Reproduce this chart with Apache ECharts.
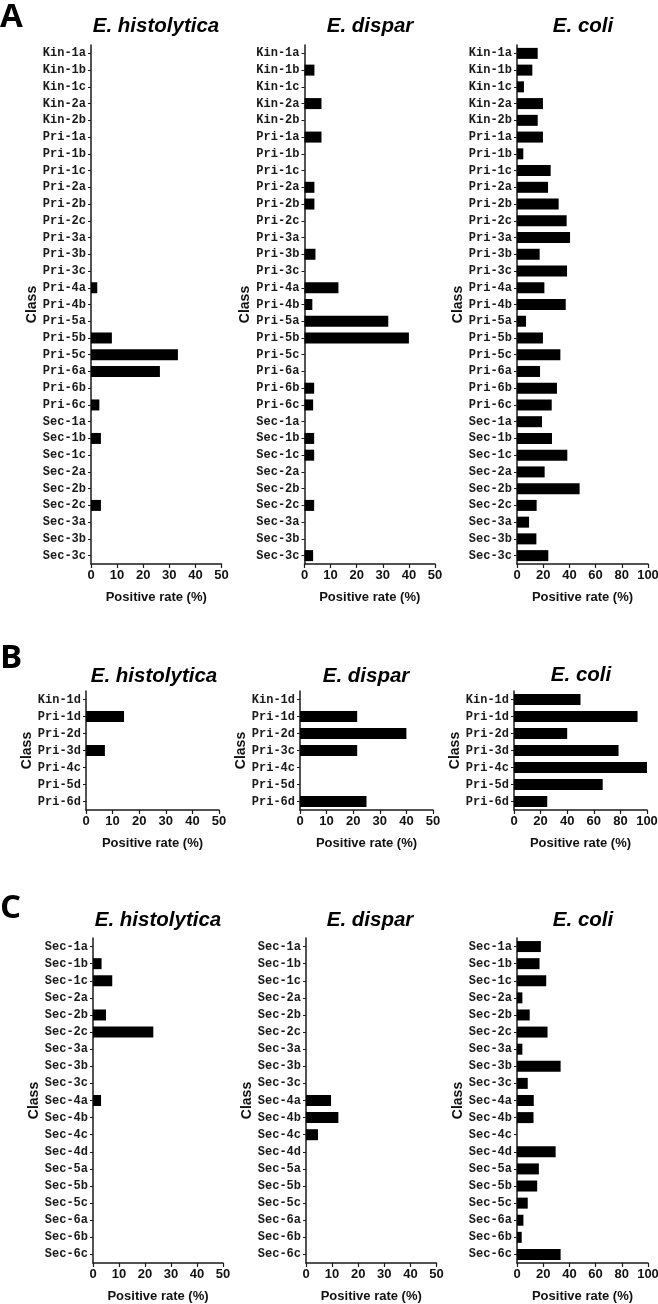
<!DOCTYPE html>
<html>
<head>
<meta charset="utf-8">
<script src="https://cdn.jsdelivr.net/npm/echarts@6/dist/echarts.min.js"></script>
<style>
html,body{margin:0;padding:0;background:#fff;}
#chart{width:658px;height:1304px;}
</style>
</head>
<body>
<div id="chart"></div>
<script>
// ---------- DATA ----------
const catsA = ['Kin-1a','Kin-1b','Kin-1c','Kin-2a','Kin-2b','Pri-1a','Pri-1b','Pri-1c','Pri-2a','Pri-2b','Pri-2c','Pri-3a','Pri-3b','Pri-3c','Pri-4a','Pri-4b','Pri-5a','Pri-5b','Pri-5c','Pri-6a','Pri-6b','Pri-6c','Sec-1a','Sec-1b','Sec-1c','Sec-2a','Sec-2b','Sec-2c','Sec-3a','Sec-3b','Sec-3c'];
const histA   = [0,0,0,0,0,0,0,0,0,0,0,0,0,0,2.4,0,0,8.0,33.3,26.4,0,3.2,0,3.8,0,0,0,3.8,0,0,0];
const disparA = [0,3.8,0,6.5,0,6.5,0,0,3.8,3.8,0,0,4.2,0,13.0,3.0,32.1,40.0,0,0,3.7,3.3,0,3.7,3.7,0,0,3.7,0,0,3.3];
const coliA   = [15.8,11.7,5.3,19.8,15.8,19.8,4.8,25.7,23.7,31.8,37.9,40.5,17.3,38.2,20.9,37.2,6.9,19.8,33.1,17.6,30.5,26.5,19.1,26.7,38.4,21.1,47.8,15.0,9.2,14.8,23.9];

const catsB       = ['Kin-1d','Pri-1d','Pri-2d','Pri-3d','Pri-4c','Pri-5d','Pri-6d'];
const catsBdispar = ['Kin-1d','Pri-1d','Pri-2d','Pri-3c','Pri-4c','Pri-5d','Pri-6d'];
const histB   = [0,14.3,0,7.1,0,0,0];
const disparB = [0,21.5,40.0,21.5,0,0,25.0];
const coliB   = [50.0,92.9,40.0,78.6,100,66.7,25.0];

const catsC = ['Sec-1a','Sec-1b','Sec-1c','Sec-2a','Sec-2b','Sec-2c','Sec-3a','Sec-3b','Sec-3c','Sec-4a','Sec-4b','Sec-4c','Sec-4d','Sec-5a','Sec-5b','Sec-5c','Sec-6a','Sec-6b','Sec-6c'];
const histC   = [0,3.3,7.4,0,5.0,23.2,0,0,0,3.1,0,0,0,0,0,0,0,0,0];
const disparC = [0,0,0,0,0,0,0,0,0,9.6,12.4,4.6,0,0,0,0,0,0,0];
const coliC   = [18.2,17.2,22.3,4.1,9.7,23.3,4.1,33.3,8.2,12.8,12.6,0,29.5,16.7,15.4,8.2,4.9,3.6,33.3];

const speciesNames = ['E. histolytica','E. dispar','E. coli'];
const panelLetters = ['A','B','C'];
const xMaxEnt = 50, xStepEnt = 10;
const xMaxColi = 100, xStepColi = 20;
const xAxisName = 'Positive rate (%)';
const yAxisName = 'Class';

// ---------- LAYOUT ----------
const panels = [
  {cats: catsA, vals: histA,   max: xMaxEnt,  step: xStepEnt,  left: 91,    width: 130.5, top: 45,  height: 519},
  {cats: catsA, vals: disparA, max: xMaxEnt,  step: xStepEnt,  left: 304.5, width: 130.5, top: 45,  height: 519},
  {cats: catsA, vals: coliA,   max: xMaxColi, step: xStepColi, left: 517,   width: 131,   top: 45,  height: 519},
  {cats: catsB, vals: histB,   max: xMaxEnt,  step: xStepEnt,  left: 86,    width: 133,   top: 691, height: 119},
  {cats: catsBdispar, vals: disparB, max: xMaxEnt, step: xStepEnt, left: 300, width: 133, top: 691, height: 119},
  {cats: catsB, vals: coliB,   max: xMaxColi, step: xStepColi, left: 514,   width: 133,   top: 691, height: 119},
  {cats: catsC, vals: histC,   max: xMaxEnt,  step: xStepEnt,  left: 93,    width: 130,   top: 938, height: 325},
  {cats: catsC, vals: disparC, max: xMaxEnt,  step: xStepEnt,  left: 306,   width: 130.5, top: 938, height: 325},
  {cats: catsC, vals: coliC,   max: xMaxColi, step: xStepColi, left: 517,   width: 131,   top: 938, height: 325}
];
const titleCenters = [[156,16],[370,16],[583,16],[154,666],[366,666],[581,665],[158,910],[370,910],[583,910]];
const letterTops = [1, 642, 892];

const axisColor = '#1a1a1a';
const grids = [], xAxes = [], yAxes = [], series = [], titles = [];

panels.forEach((p, i) => {
  grids.push({left: p.left, top: p.top, width: p.width, height: p.height, containLabel: false, outerBoundsMode: 'none'});
  xAxes.push({
    type: 'value', gridIndex: i, min: 0, max: p.max, interval: p.step,
    name: xAxisName, nameLocation: 'middle', nameGap: 27,
    nameTextStyle: {fontFamily: 'Liberation Sans', fontWeight: 'bold', fontSize: 13, color: '#111'},
    axisLine: {show: true, lineStyle: {color: axisColor, width: 1.5}},
    axisTick: {show: true, length: 4, lineStyle: {color: axisColor, width: 1.2}},
    axisLabel: {fontFamily: 'Liberation Sans', fontWeight: 'bold', fontSize: 13, color: '#111', margin: 5},
    splitLine: {show: false}
  });
  yAxes.push({
    type: 'category', gridIndex: i, data: p.cats, inverse: true,
    name: yAxisName, nameLocation: 'middle', nameGap: 52, nameRotate: 90,
    nameTextStyle: {fontFamily: 'Liberation Sans', fontWeight: 'bold', fontSize: 14, color: '#111'},
    axisLine: {show: true, onZero: false, lineStyle: {color: axisColor, width: 1.5}},
    axisTick: {show: true, alignWithLabel: true, length: 3, lineStyle: {color: axisColor, width: 1}},
    axisLabel: {fontFamily: 'Liberation Mono', fontWeight: 'bold', fontSize: 12, color: '#1a1a1a', margin: 5, interval: 0},
    splitLine: {show: false}
  });
  series.push({
    type: 'bar', xAxisIndex: i, yAxisIndex: i, data: p.vals,
    barWidth: 11, itemStyle: {color: '#000'}, silent: true, animation: false
  });
  titles.push({
    text: speciesNames[i % 3], left: titleCenters[i][0], top: titleCenters[i][1], textAlign: 'center', padding: 0,
    textStyle: {fontFamily: 'Liberation Sans', fontStyle: 'italic', fontWeight: 'bold', fontSize: 20.5, color: '#000'}
  });
});
panelLetters.forEach((L, k) => {
  titles.push({
    text: L, left: 0, top: letterTops[k], padding: 0,
    textStyle: {fontFamily: 'Open Sans', fontWeight: 'bold', fontSize: 33, color: '#000'}
  });
});

const chart = echarts.init(document.getElementById('chart'), null, {renderer: 'canvas'});
chart.setOption({
  backgroundColor: '#fff',
  animation: false,
  title: titles,
  grid: grids,
  xAxis: xAxes,
  yAxis: yAxes,
  series: series
});
</script>
</body>
</html>
